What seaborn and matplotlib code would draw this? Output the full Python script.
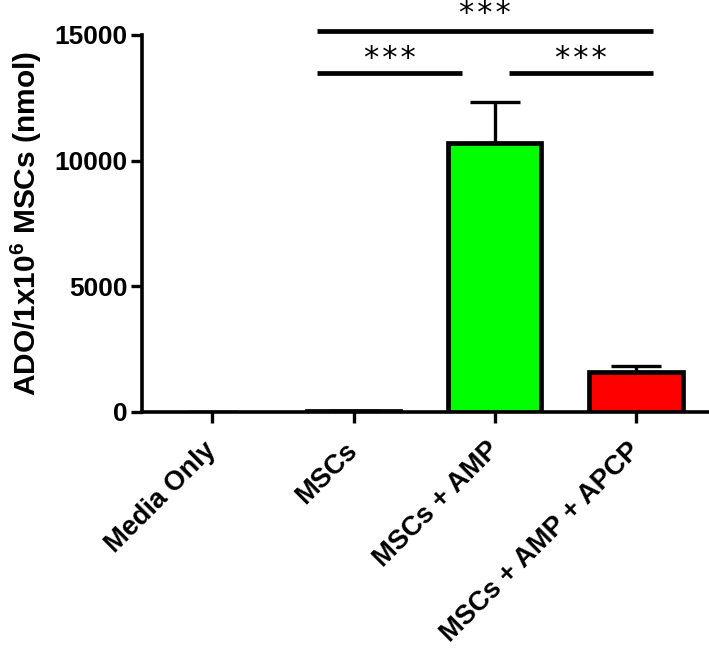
import seaborn as sns
import matplotlib.pyplot as plt
import pandas as pd

# Data
groups = ['Media Only', 'MSCs', 'MSCs + AMP', 'MSCs + AMP + APCP']
ado = [0, 40, 10700, 1600]
sem = [0, 0, 1650, 220]
colors = ['white', 'white', '#00FF00', '#FF0000']

# significance brackets: (start group idx, end group idx, height, label)
sig_pairs = [(1, 3, 15150, '***'), (1, 2, 13500, '***'), (2, 3, 13500, '***')]

df = pd.DataFrame({'Group': groups, 'ADO': ado})

sns.set_style("white")
plt.rcParams['font.family'] = ['Liberation Sans', 'DejaVu Sans']
plt.rcParams['mathtext.fontset'] = 'custom'
plt.rcParams['mathtext.rm'] = 'Liberation Sans:bold'
plt.rcParams['mathtext.bf'] = 'Liberation Sans:bold'
plt.rcParams['mathtext.default'] = 'bf'
for k in ['text.color', 'axes.labelcolor', 'xtick.color', 'ytick.color']:
    plt.rcParams[k] = 'black'

fig = plt.figure(figsize=(7.09, 6.54), dpi=100)
ax = fig.add_axes([0.2, 0.3705, 0.7986, 0.576])

sns.barplot(data=df, x='Group', y='ADO', hue='Group', palette=colors,
            legend=False, errorbar=None, width=0.66, saturation=1,
            edgecolor='black', linewidth=3.4, ax=ax, zorder=3)
# zero-height bar shows no outline in the original
ax.patches[0].set_edgecolor('none')

# upper-only error bars
ax.errorbar(range(len(groups)), ado, yerr=[[0] * len(groups), sem],
            fmt='none', ecolor='black', elinewidth=2.4, capsize=18,
            capthick=2.4, zorder=2)

ax.set_ylim(0, 15000)
ax.set_xlim(-0.5, 3.51)
ax.set_yticks([0, 5000, 10000, 15000])
ax.set_yticklabels(['0', '5000', '10000', '15000'], fontsize=19, fontweight='bold')
ax.set_xticks(range(len(groups)))
ax.set_xticklabels(groups, rotation=45, ha='right', va='center', rotation_mode='anchor',
                   fontsize=19.5, fontweight='bold')
ax.tick_params(axis='y', direction='out', length=8, width=2.4, pad=2, left=True)
ax.tick_params(axis='x', direction='out', length=8, width=2.4, pad=17, bottom=True)
ax.set_xlabel('')
ax.set_ylabel(r'ADO/1x10$^{6}$ MSCs (nmol)', fontsize=21.5, fontweight='bold', labelpad=8)

for side in ['top', 'right']:
    ax.spines[side].set_visible(False)
for side in ['left', 'bottom']:
    ax.spines[side].set_linewidth(2.6)
    ax.spines[side].set_color('black')

# significance brackets
for i, j, h, lab in sig_pairs:
    x0, x1 = i - 0.26, j + 0.12
    if (i, j) == (1, 2):
        x1 = j - 0.23
    if (i, j) == (2, 3):
        x0 = i + 0.1
    off = 350 if (i, j) == (1, 3) else 230
    ax.plot([x0, x1], [h, h], color='black', lw=3.4, clip_on=False,
            solid_capstyle='butt')
    ax.text((x0 + x1) / 2, h + off, '\u200a'.join(lab), ha='center', va='baseline',
            fontsize=22, family='DejaVu Sans', clip_on=False)

fig.savefig('out.png', dpi=100)
